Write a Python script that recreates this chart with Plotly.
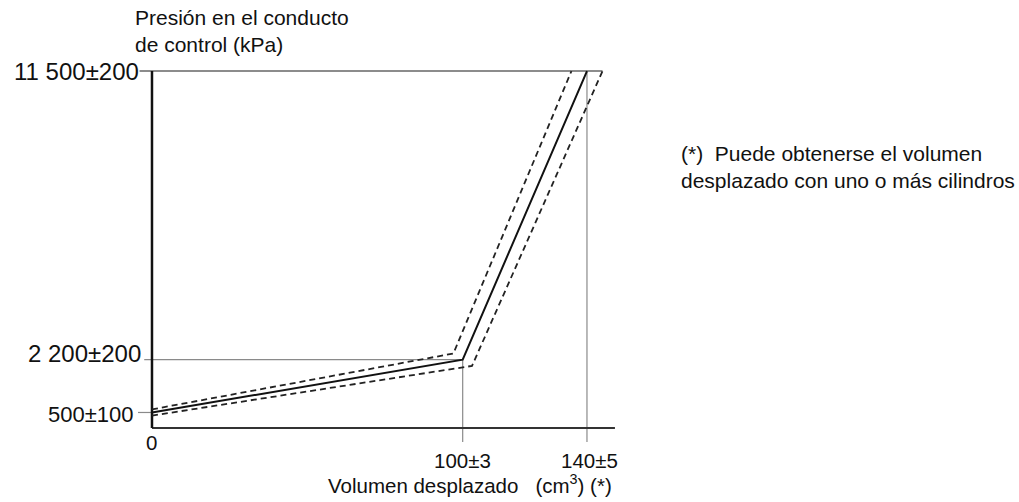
import plotly.graph_objects as go

# Data
volume = [0, 100, 140]                 # cm3
pressure = [500, 2200, 11500]          # kPa
upper_vol = [0, 97, 135]
upper_p = [600, 2400, 11500]
lower_vol = [0, 103, 145]
lower_p = [400, 2000, 11500]

y_ticks = [11500, 2200, 500]
y_tick_labels = ["11 500±200", "2 200±200", "500±100"]
x_ticks = [0, 100, 140]
x_tick_labels = ["0", "100±3", "140±5"]

x_max_axis = 149
y_top = 11500

FONT = "Liberation Sans, Arial, sans-serif"
INK = "#111111"
GUIDE = "#8a8a8a"

fig = go.Figure()

# guide lines (through data coords)
guides = [
    ([-4, 145], [y_top, y_top], "#666666", 1.6),
    ([-2.5, volume[1]], [pressure[1], pressure[1]], GUIDE, 1.2),
    ([-4.5, 0], [pressure[0], pressure[0]], GUIDE, 1.2),
    ([volume[1], volume[1]], [-450, pressure[1]], GUIDE, 1.2),
    ([volume[2], volume[2]], [-450, y_top], GUIDE, 1.2),
]
for gx, gy, c, w in guides:
    fig.add_trace(go.Scatter(x=gx, y=gy, mode="lines",
                             line=dict(color=c, width=w),
                             hoverinfo="skip", showlegend=False))

# axes
fig.add_trace(go.Scatter(x=[0, x_max_axis], y=[0, 0], mode="lines",
                         line=dict(color="#333333", width=2),
                         hoverinfo="skip", showlegend=False))
fig.add_trace(go.Scatter(x=[0, 0], y=[0, y_top], mode="lines",
                         line=dict(color=INK, width=2.5),
                         hoverinfo="skip", showlegend=False))

# tolerance lines
for vx, vy in [(upper_vol, upper_p), (lower_vol, lower_p)]:
    fig.add_trace(go.Scatter(x=vx, y=vy, mode="lines",
                             line=dict(color="#222222", width=1.8, dash="6px,4px"),
                             hoverinfo="skip", showlegend=False))
# nominal
fig.add_trace(go.Scatter(x=volume, y=pressure, mode="lines",
                         line=dict(color=INK, width=2),
                         hoverinfo="skip", showlegend=False))

ann = []
ysz = [24, 24, 22]
yx = [-3.5, -3, -5]
ysh = [0, 6, -2]
for v, t, s, xx, sh in zip(y_ticks, y_tick_labels, ysz, yx, ysh):
    ann.append(dict(x=xx, y=v, text=t, xanchor="right", yanchor="middle",
                    yshift=sh, showarrow=False,
                    font=dict(family=FONT, size=s, color=INK)))
xoff = [-470, -1060, -1060]
xsh = [0, 0, 3]
for v, t, o, sh in zip(x_ticks, x_tick_labels, xoff, xsh):
    ann.append(dict(x=v, y=o, text=t, xanchor="center", yanchor="middle",
                    xshift=sh, showarrow=False,
                    font=dict(family=FONT, size=20.5, color=INK)))
ann.append(dict(x=-6.1, y=12780, text="Presión en el conducto<br>de control (kPa)",
                xanchor="left", yanchor="middle", align="left", showarrow=False,
                font=dict(family=FONT, size=21, color=INK)))
ann.append(dict(x=102.5, y=-1800, text="Volumen desplazado   (cm<sup>3</sup>) (*)",
                xanchor="center", yanchor="middle", showarrow=False,
                font=dict(family=FONT, size=20.5, color=INK)))
ann.append(dict(x=169.5, y=8400,
                text="(*)  Puede obtenerse el volumen<br>desplazado con uno o más cilindros",
                xanchor="left", yanchor="middle", align="left", showarrow=False,
                font=dict(family=FONT, size=21, color=INK)))

fig.update_layout(
    width=1019, height=502,
    margin=dict(l=0, r=0, t=0, b=0),
    paper_bgcolor="white", plot_bgcolor="white",
    xaxis=dict(range=[-48.92, 279.05], visible=False, fixedrange=True),
    yaxis=dict(range=[-2384, 13789], visible=False, fixedrange=True),
    annotations=ann,
    showlegend=False,
)

fig.write_html("out.html")
